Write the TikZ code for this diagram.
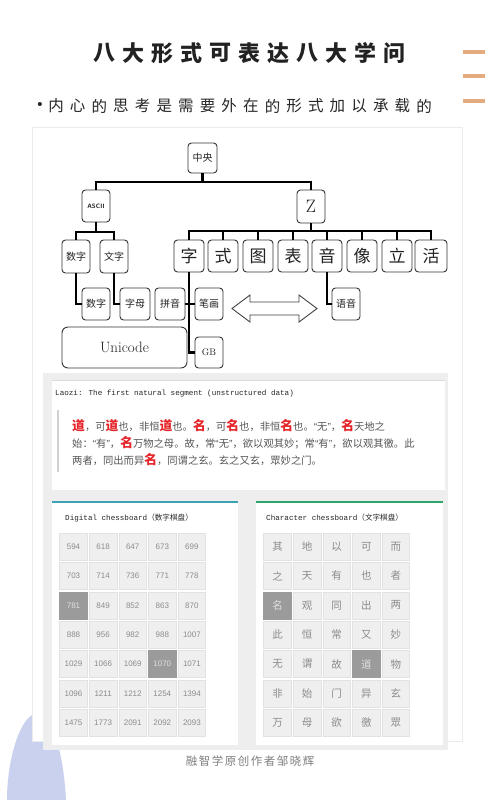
\documentclass[tikz,border=0pt]{standalone}
\usepackage{fontspec}
\newfontfamily\cjk{Noto Sans CJK SC}
\newfontfamily\lsans{Liberation Sans}
\newfontfamily\lmono{Liberation Mono}
\definecolor{barc}{HTML}{E3AC80}
\definecolor{tdark}{HTML}{222222}
\definecolor{laogray}{HTML}{555555}
\definecolor{laored}{HTML}{E5262A}
\definecolor{cellfill}{HTML}{EFEFEF}
\definecolor{celldraw}{HTML}{E2E2E2}
\definecolor{cellhi}{HTML}{9B9B9B}
\definecolor{celltext}{HTML}{8C8C8C}
\definecolor{panelc}{HTML}{EEEEEE}
\definecolor{tealc}{HTML}{3FA3B4}
\definecolor{greenc}{HTML}{2CA56E}
\definecolor{bluec}{HTML}{C9D1EE}
\newcommand\rd[1]{{\fontsize{12.8}{12.8}\selectfont\bfseries\color{laored}#1}}
\newcommand\ql{{\lsans “}}
\newcommand\qr{{\lsans ”}}
\begin{document}
\begin{tikzpicture}[x=1pt,y=-1pt,
  tbox/.style={draw=black!80,line width=0.9pt,rounded corners=3.5pt,fill=white,inner sep=0pt,
    minimum width=28pt,minimum height=32pt,font=\cjk\fontsize{10}{10}\selectfont,text=tdark},
  zrow/.style={tbox,minimum width=30pt,font=\cjk\fontsize{17}{17}\selectfont},
  tree/.style={line width=2.3pt,black},
  titlech/.style={inner sep=0pt,font=\cjk\bfseries\fontsize{22}{22}\selectfont,text=tdark},
  bulch/.style={inner sep=0pt,font=\cjk\fontsize{15.5}{15.5}\selectfont,text=black!85},
  footch/.style={inner sep=0pt,font=\cjk\fontsize{11.5}{11.5}\selectfont,text=black!50},
  cell/.style={fill=cellfill,draw=celldraw,line width=0.6pt,minimum width=27.5pt,minimum height=27pt,
    inner sep=0pt,text=celltext},
  hcell/.style={cell,fill=cellhi,draw=cellhi,text=white!88!black},
  numcell/.style={font=\lsans\fontsize{8}{8}\selectfont},
  chcell/.style={font=\cjk\fontsize{10.5}{10.5}\selectfont},
  cardtitle/.style={anchor=west,inner sep=0pt,font=\lmono\fontsize{7.6}{7.6}\selectfont,text=black!85},
  laoline/.style={anchor=west,inner sep=0pt,font=\cjk\fontsize{10.3}{10.3}\selectfont,text=laogray},
  orbar/.style={fill=barc,draw=none}
]
\useasboundingbox (0,0) rectangle (500,800);
\fill[white] (0,0) rectangle (500,800);

% decorative blue arch
\fill[bluec] (7,800) .. controls (7,760) and (20,714) .. (38,713) .. controls (54,714) and (64,760) .. (66,800) -- cycle;

% orange bars
\fill[orbar] (463,50) rectangle (485,54);
\fill[orbar] (463,74) rectangle (485,78);
\fill[orbar] (463,99) rectangle (485,103);

% title
\foreach \c [count=\k from 0] in {八,大,形,式,可,表,达,八,大,学,问}
  \node[titlech] (t\k) at ({104+29*\k},53) {\c};

% bullet line
\node[inner sep=0pt,font=\lsans\fontsize{15}{15}\selectfont,text=black!85] (bul) at (40,106) {•};
\foreach \c [count=\k from 0] in {内,心,的,思,考,是,需,要,外,在,的,形,式,加,以,承,载,的}
  \node[bulch] (b\k) at ({56+21.65*\k},106) {\c};

% screenshot area
\filldraw[fill=white,draw=black!8,line width=0.6pt] (32,127) rectangle (462,741);

% ---------- tree ----------
\node[tbox,minimum width=29pt,minimum height=30pt] (root) at (202.5,158) {中央};
\node[tbox,font=\sffamily\bfseries\fontsize{6.3}{6.3}\selectfont] (ascii) at (96,206) {ASCII};
\node[tbox,minimum height=33pt,font=\fontsize{18}{18}\selectfont] (zb) at (311,206.5) {Z};

\node[tbox,minimum height=33pt] (sz1) at (76,256.5) {数字};
\node[tbox,minimum height=33pt] (wz) at (114,256.5) {文字};

\node[zrow] (zi) at (189,256) {字};
\node[zrow] (shi) at (223,256) {式};
\node[zrow] (tu) at (258,256) {图};
\node[zrow] (biao) at (293,256) {表};
\node[zrow] (yin) at (327,256) {音};
\node[zrow] (xiang) at (362,256) {像};
\node[zrow] (li) at (397,256) {立};
\node[zrow,minimum width=32pt] (huo) at (431,256) {活};

\node[tbox] (sz2) at (96,304) {数字};
\node[tbox,minimum width=30pt] (zm) at (135,304) {字母};
\node[tbox,minimum width=30pt] (py) at (170,304) {拼音};
\node[tbox] (bh) at (209,304) {笔画};
\node[tbox,minimum height=31pt,font=\fontsize{9.5}{9.5}\selectfont] (gb) at (209,352.5) {GB};
\node[tbox,minimum width=125pt,minimum height=41pt,rounded corners=6pt,font=\fontsize{15}{15}\selectfont] (uni) at (124.5,347.5) {Unicode};
\node[tbox] (yy) at (346,304) {语音};

\coordinate (b1) at (202.5,182);
\coordinate (b2) at (96,232);
\coordinate (b3) at (311,231);
\draw[tree] (root.south) -- (b1);
\draw[tree] (ascii.north) |- (b1) -| (zb.north);
\draw[tree] (ascii.south) -- (b2);
\draw[tree] (sz1.north) |- (b2) -| (wz.north);
\draw[tree] (zb.south) -- (b3);
\draw[tree] (zi.north) |- (b3) -| (huo.north);
\foreach \n in {shi,tu,biao,yin,xiang,li}
  \draw[tree] (\n.north) -- (\n.north |- b3);
\draw[tree] (sz1.south) |- (sz2.west);
\draw[tree] (wz.south) |- (zm.west);
\draw[tree] (zi.south) |- (gb.west);
\draw[tree] (py.east) -- (bh.west);
\draw[tree] (yin.south) |- (yy.west);

% hollow double arrow
\draw[line width=0.9pt,draw=black!75,fill=white,line join=miter]
  (232,308.5) -- (250,295) -- (250,302) -- (299,302) -- (299,295) -- (317,308.5)
  -- (299,322) -- (299,315) -- (250,315) -- (250,322) -- cycle;

% ---------- lower panel ----------
\fill[panelc] (43,373) rectangle (448,750);

% Laozi card
\fill[white] (52,380) rectangle (445,490);
\draw[black!14,line width=1.2pt] (52,380.6) -- (445,380.6);
\node[cardtitle] (laot) at (55,394) {Laozi: The first natural segment (unstructured data)};
\draw[black!18,line width=2pt] (58,410) -- (58,472);
\node[laoline] (l1) at (72,426) {\rd{道}，可\rd{道}也，非恒\rd{道}也。\rd{名}，可\rd{名}也，非恒\rd{名}也。\ql 无\qr ，\rd{名}天地之};
\node[laoline] (l2) at (72,443) {始：\ql 有\qr ，\rd{名}万物之母。故，常\ql 无\qr ，欲以观其妙；常\ql 有\qr ，欲以观其徼。此};
\node[laoline] (l3) at (72,460) {两者，同出而异\rd{名}，同谓之玄。玄之又玄，眾妙之门。};

% digital card
\fill[white] (52,502) rectangle (238,745);
\draw[tealc,line width=2pt] (52,502) -- (238,502);
\node[cardtitle] (dt) at (65,518) {Digital chessboard{\cjk （数字棋盘）}};
\foreach \row [count=\i from 0] in {{594,618,647,673,699},{703,714,736,771,778},{781,849,852,863,870},
   {888,956,982,988,1007},{1029,1066,1069,1070,1071},{1096,1211,1212,1254,1394},{1475,1773,2091,2092,2093}}{
  \foreach \v [count=\j from 0] in \row {
    \def\st{cell}
    \ifnum\i=2 \ifnum\j=0 \def\st{hcell}\fi\fi
    \ifnum\i=4 \ifnum\j=3 \def\st{hcell}\fi\fi
    \node[\st,numcell] (d-\i-\j) at ({73.5+29.6*\j},{546.5+29.4*\i}) {\v};
  }
}

% character card
\fill[white] (256,502) rectangle (443,745);
\draw[greenc,line width=2pt] (256,502) -- (443,502);
\node[cardtitle] (ct) at (266,518) {Character chessboard{\cjk （文字棋盘）}};
\foreach \row [count=\i from 0] in {{其,地,以,可,而},{之,天,有,也,者},{名,观,同,出,两},
   {此,恒,常,又,妙},{无,谓,故,道,物},{非,始,门,异,玄},{万,母,欲,徼,眾}}{
  \foreach \v [count=\j from 0] in \row {
    \def\st{cell}
    \ifnum\i=2 \ifnum\j=0 \def\st{hcell}\fi\fi
    \ifnum\i=4 \ifnum\j=3 \def\st{hcell}\fi\fi
    \node[\st,chcell] (c-\i-\j) at ({277.5+29.6*\j},{546.5+29.4*\i}) {\v};
  }
}

% footer
\foreach \c [count=\k from 0] in {融,智,学,原,创,作,者,邹,晓,辉}
  \node[footch] (f\k) at ({191.5+13*\k},761) {\c};
\end{tikzpicture}
\end{document}
